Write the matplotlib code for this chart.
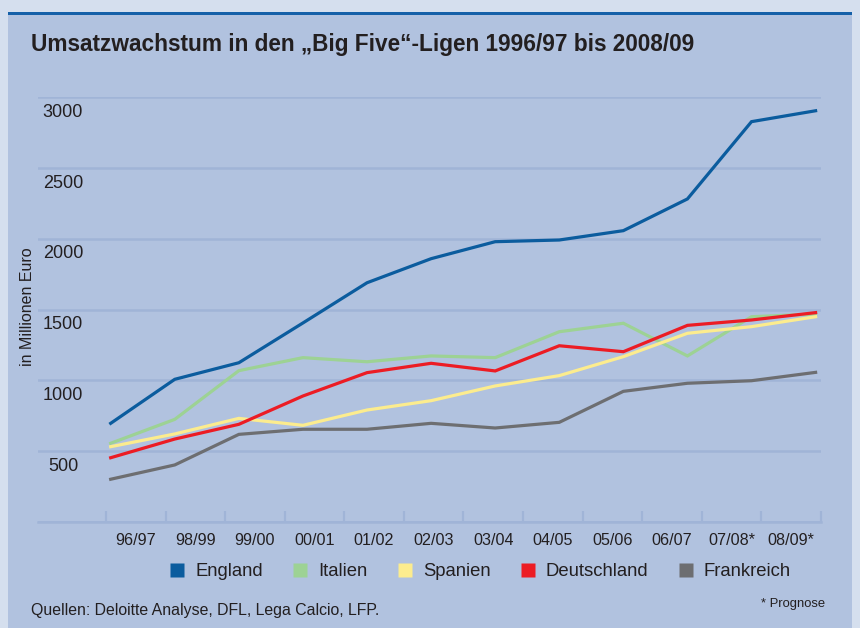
import matplotlib
matplotlib.use("Agg")
import matplotlib.pyplot as plt
from matplotlib.lines import Line2D
from matplotlib.patches import Rectangle
from matplotlib.transforms import ScaledTranslation

plt.rcParams['font.family'] = ['Liberation Sans', 'DejaVu Sans']

# ---------------- data ----------------
seasons = ["96/97", "98/99", "99/00", "00/01", "01/02", "02/03",
           "03/04", "04/05", "05/06", "06/07", "07/08*", "08/09*"]
england = [697, 1008, 1125, 1406, 1690, 1860, 1980, 1992, 2058, 2282, 2828, 2905]
italien = [556, 725, 1069, 1161, 1132, 1173, 1161, 1344, 1404, 1173, 1450, 1469]
spanien = [532, 622, 732, 683, 791, 857, 961, 1034, 1168, 1333, 1380, 1450]
deutschland = [454, 586, 690, 890, 1055, 1121, 1067, 1245, 1203, 1389, 1427, 1479]
frankreich = [302, 403, 619, 655, 655, 697, 664, 704, 923, 980, 998, 1057]
y_ticks = [0, 500, 1000, 1500, 2000, 2500, 3000]
y_ticklabels = ["", "500", "1000", "1500", "2000", "2500", "3000"]

series = [("England", england, "#0b5c9e"),
          ("Italien", italien, "#9dd294"),
          ("Spanien", spanien, "#fcec8e"),
          ("Deutschland", deutschland, "#ec1c24"),
          ("Frankreich", frankreich, "#6d6e71")]
draw_order = ["Frankreich", "Italien", "Spanien", "Deutschland", "England"]

# ---------------- layout ----------------
W, H = 860, 628
OUTER = "#d5dfee"
PANEL = "#b1c2df"
GRID = "#a0b4d7"
TEXT = "#231f20"

fig = plt.figure(figsize=(W / 100, H / 100), dpi=100)
fig.patch.set_facecolor(OUTER)

# panel and top bar
fig.patches.append(Rectangle((8 / W, 0), (852 - 8) / W, (H - 13) / H,
                             transform=fig.transFigure, facecolor=PANEL,
                             edgecolor="none", zorder=-2))
fig.patches.append(Rectangle((8 / W, (H - 15) / H), (852 - 8) / W, 3 / H,
                             transform=fig.transFigure, facecolor="#1560a8",
                             edgecolor="none", zorder=-1))

# axes geometry (pixels)
ax_left, ax_right = 38, 821
ax_bottom_y, ax_top_y = 522, 97.3
ax = fig.add_axes([ax_left / W, (H - ax_bottom_y) / H,
                   (ax_right - ax_left) / W, (ax_bottom_y - ax_top_y) / H])
ax.set_zorder(5)
ax.set_facecolor("none")

# x mapping: data index i -> pixel X0 + DX*i
X0, DX = 110.7, 64.1
def px2x(px):
    return (px - X0) / DX

ax.set_xlim(px2x(ax_left), px2x(ax_right))
ax.set_ylim(0, 3000)

xs = list(range(len(seasons)))
lookup = {n: (v, c) for n, v, c in series}
for name in draw_order:
    vals, col = lookup[name]
    ax.plot(xs, vals, color=col, lw=2.3, solid_joinstyle="miter", zorder=3,
            clip_on=False)

# gridlines
ax.set_yticks(y_ticks)
ax.set_yticklabels(y_ticklabels)
ax.yaxis.grid(True, color=GRID, lw=1.8)
ax.set_axisbelow(True)
ax.tick_params(axis="y", length=0, pad=-25 * 72 / 100, labelsize=13,
               labelcolor=TEXT)
for lab in ax.get_yticklabels():
    lab.set_horizontalalignment("center")
    lab.set_transform(lab.get_transform() +
                      ScaledTranslation(0, -13 / 100, fig.dpi_scale_trans))

for s in ["top", "right", "left"]:
    ax.spines[s].set_visible(False)
ax.spines["bottom"].set_color(GRID)
ax.spines["bottom"].set_linewidth(1.8)

# x ticks: labels between boundary marks
boundary_px = [106 + 59.6 * k for k in range(13)]
label_px = [135.8 + 59.6 * k for k in range(12)]
ax.set_xticks([px2x(p) for p in label_px])
ax.set_xticklabels(seasons)
ax.set_xticks([px2x(p) for p in boundary_px], minor=True)
ax.tick_params(axis="x", which="major", length=0, pad=8, labelsize=11.6,
               labelcolor=TEXT)
ax.tick_params(axis="x", which="minor", direction="in", length=8, width=1.6,
               color=GRID)

# texts
fig.text(31 / W, (H - 45) / H,
         "Umsatzwachstum in den \u201eBig Five\u201c-Ligen 1996/97 bis 2008/09",
         fontsize=16.3, fontweight="bold", color=TEXT, ha="left", va="center")
fig.text(28 / W, (H - 307) / H, "in Millionen Euro", rotation=90,
         fontsize=11.5, color=TEXT, ha="center", va="center")
fig.text(31 / W, (H - 611) / H,
         "Quellen: Deloitte Analyse, DFL, Lega Calcio, LFP.",
         fontsize=11.4, color=TEXT, ha="left", va="center")
fig.text(825 / W, (H - 604) / H, "* Prognose", fontsize=9.4, color=TEXT,
         ha="right", va="center")

# legend
handles = [Line2D([], [], ls="none", marker="s", markersize=10,
                  markerfacecolor=c, markeredgecolor="none")
           for _, _, c in series]
labels = [n for n, _, _ in series]
fig.legend(handles, labels, loc="center", bbox_to_anchor=(479.5 / W, (H - 572) / H),
           ncol=5, frameon=False, fontsize=13.3, handlelength=1.0,
           handletextpad=0.47, columnspacing=1.53, labelcolor=TEXT,
           borderpad=0, borderaxespad=0)

fig.savefig("out.png", dpi=100, facecolor=fig.get_facecolor())
